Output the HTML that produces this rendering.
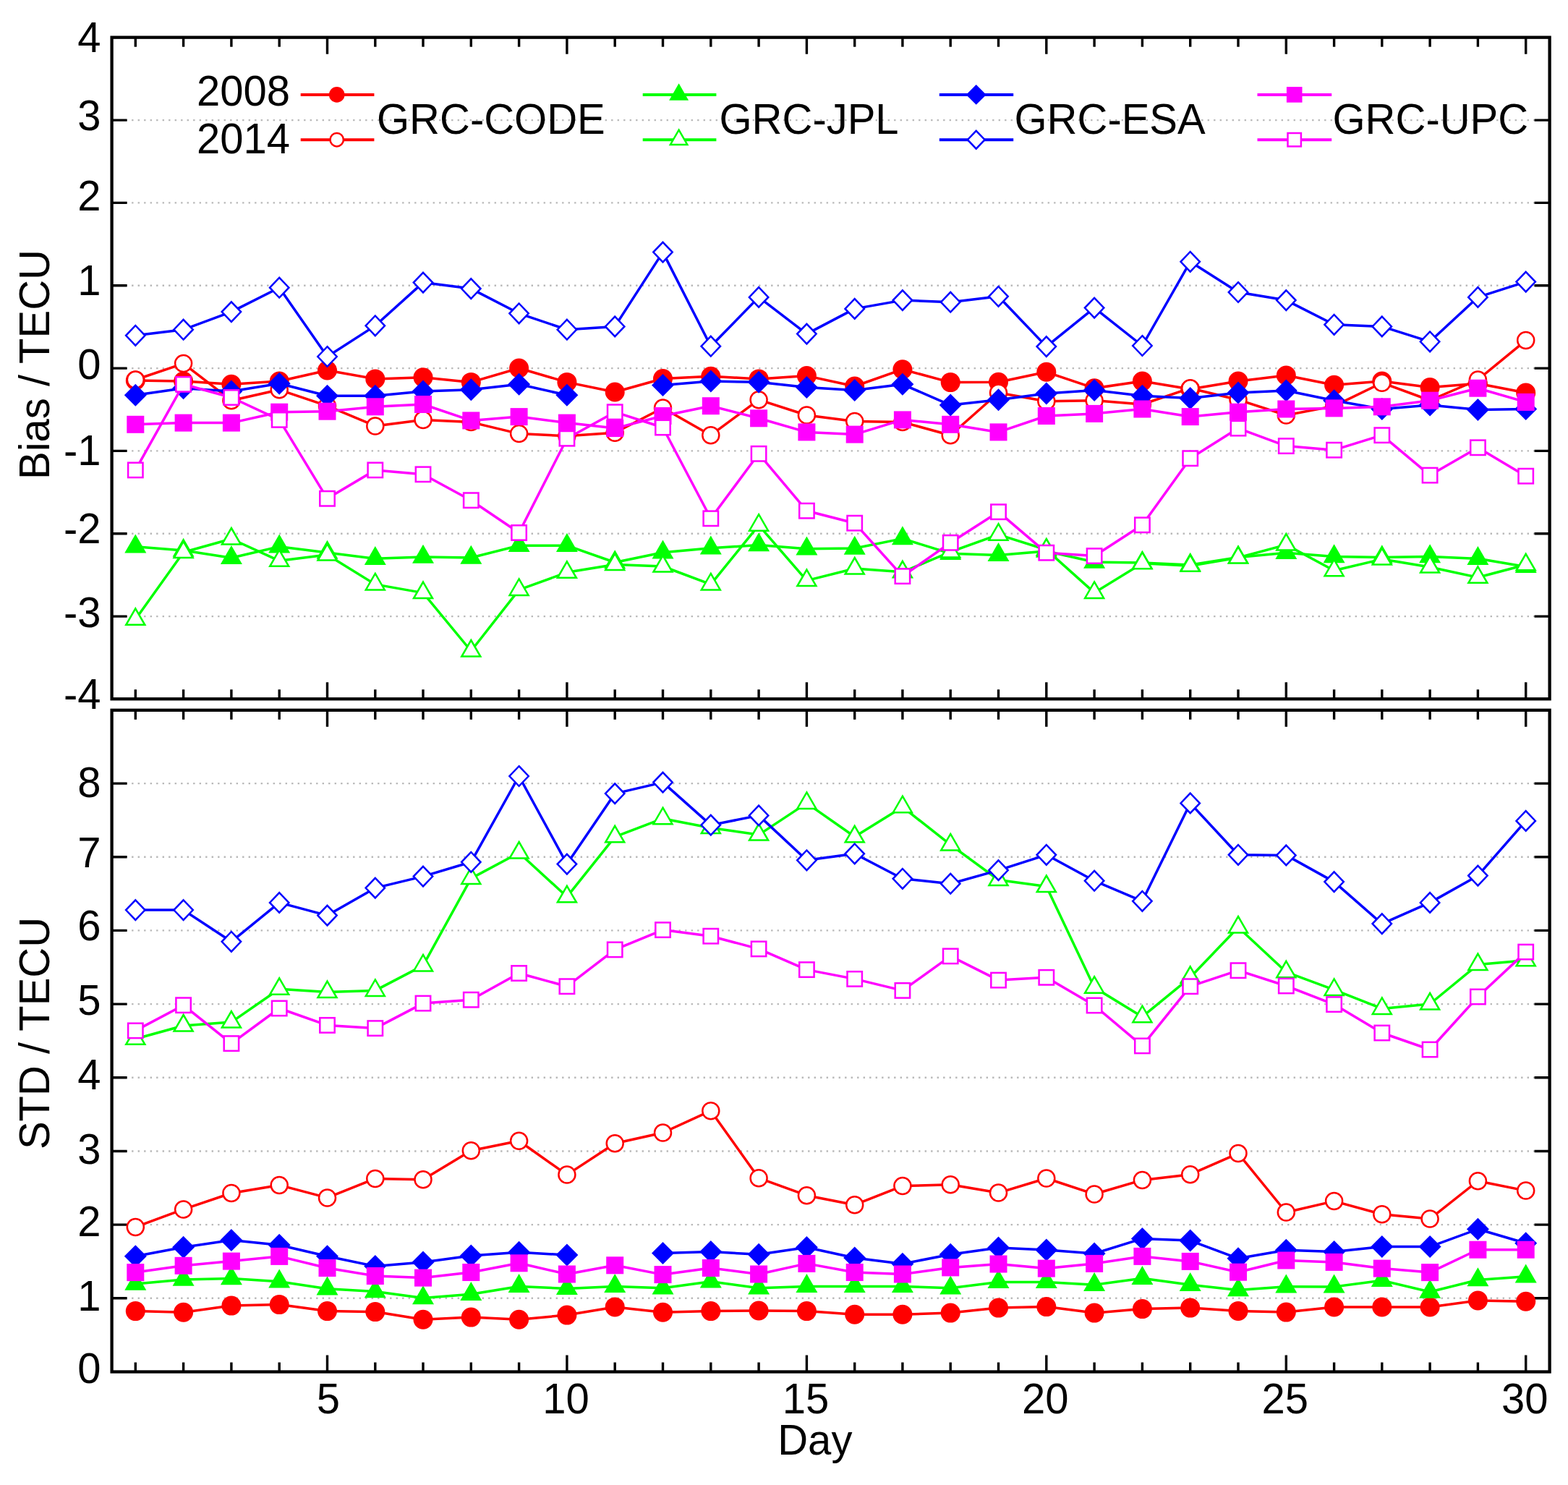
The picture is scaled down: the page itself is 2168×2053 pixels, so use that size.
<!DOCTYPE html>
<html><head><meta charset="utf-8"><title>Bias and STD of GRC vs GIMs</title>
<style>html,body{margin:0;padding:0;background:#fff;overflow:hidden}svg{display:block}</style>
</head><body>
<svg width="2168" height="2053" viewBox="0 0 2168 2053">
<defs><clipPath id="c1"><rect x="154.6" y="51.7" width="1988" height="914.6"/></clipPath>
<clipPath id="c2"><rect x="154.6" y="981.8" width="1988" height="914.7"/></clipPath></defs>
<rect width="2168" height="2053" fill="#fff"/>
<g stroke="#b9b9b9" stroke-width="2.4" stroke-dasharray="2.4 6.1"><line x1="156.6" y1="852.1" x2="2140.6" y2="852.1"/><line x1="156.6" y1="737.8" x2="2140.6" y2="737.8"/><line x1="156.6" y1="623.4" x2="2140.6" y2="623.4"/><line x1="156.6" y1="509.1" x2="2140.6" y2="509.1"/><line x1="156.6" y1="394.8" x2="2140.6" y2="394.8"/><line x1="156.6" y1="280.4" x2="2140.6" y2="280.4"/><line x1="156.6" y1="166.1" x2="2140.6" y2="166.1"/><line x1="156.6" y1="1794.8" x2="2140.6" y2="1794.8"/><line x1="156.6" y1="1693.1" x2="2140.6" y2="1693.1"/><line x1="156.6" y1="1591.5" x2="2140.6" y2="1591.5"/><line x1="156.6" y1="1489.8" x2="2140.6" y2="1489.8"/><line x1="156.6" y1="1388.1" x2="2140.6" y2="1388.1"/><line x1="156.6" y1="1286.4" x2="2140.6" y2="1286.4"/><line x1="156.6" y1="1184.7" x2="2140.6" y2="1184.7"/><line x1="156.6" y1="1083.1" x2="2140.6" y2="1083.1"/></g>
<path d="M187.3 51.7v13M187.3 966.3v-13M187.3 981.8v13M187.3 1896.5v-13M253.6 51.7v13M253.6 966.3v-13M253.6 981.8v13M253.6 1896.5v-13M319.9 51.7v13M319.9 966.3v-13M319.9 981.8v13M319.9 1896.5v-13M386.2 51.7v13M386.2 966.3v-13M386.2 981.8v13M386.2 1896.5v-13M452.5 51.7v23M452.5 966.3v-23M452.5 981.8v23M452.5 1896.5v-23M518.8 51.7v13M518.8 966.3v-13M518.8 981.8v13M518.8 1896.5v-13M585 51.7v13M585 966.3v-13M585 981.8v13M585 1896.5v-13M651.3 51.7v13M651.3 966.3v-13M651.3 981.8v13M651.3 1896.5v-13M717.6 51.7v13M717.6 966.3v-13M717.6 981.8v13M717.6 1896.5v-13M783.9 51.7v23M783.9 966.3v-23M783.9 981.8v23M783.9 1896.5v-23M850.2 51.7v13M850.2 966.3v-13M850.2 981.8v13M850.2 1896.5v-13M916.5 51.7v13M916.5 966.3v-13M916.5 981.8v13M916.5 1896.5v-13M982.8 51.7v13M982.8 966.3v-13M982.8 981.8v13M982.8 1896.5v-13M1049.1 51.7v13M1049.1 966.3v-13M1049.1 981.8v13M1049.1 1896.5v-13M1115.4 51.7v23M1115.4 966.3v-23M1115.4 981.8v23M1115.4 1896.5v-23M1181.7 51.7v13M1181.7 966.3v-13M1181.7 981.8v13M1181.7 1896.5v-13M1247.9 51.7v13M1247.9 966.3v-13M1247.9 981.8v13M1247.9 1896.5v-13M1314.2 51.7v13M1314.2 966.3v-13M1314.2 981.8v13M1314.2 1896.5v-13M1380.5 51.7v13M1380.5 966.3v-13M1380.5 981.8v13M1380.5 1896.5v-13M1446.8 51.7v23M1446.8 966.3v-23M1446.8 981.8v23M1446.8 1896.5v-23M1513.1 51.7v13M1513.1 966.3v-13M1513.1 981.8v13M1513.1 1896.5v-13M1579.4 51.7v13M1579.4 966.3v-13M1579.4 981.8v13M1579.4 1896.5v-13M1645.7 51.7v13M1645.7 966.3v-13M1645.7 981.8v13M1645.7 1896.5v-13M1712 51.7v13M1712 966.3v-13M1712 981.8v13M1712 1896.5v-13M1778.3 51.7v23M1778.3 966.3v-23M1778.3 981.8v23M1778.3 1896.5v-23M1844.6 51.7v13M1844.6 966.3v-13M1844.6 981.8v13M1844.6 1896.5v-13M1910.8 51.7v13M1910.8 966.3v-13M1910.8 981.8v13M1910.8 1896.5v-13M1977.1 51.7v13M1977.1 966.3v-13M1977.1 981.8v13M1977.1 1896.5v-13M2043.4 51.7v13M2043.4 966.3v-13M2043.4 981.8v13M2043.4 1896.5v-13M2109.7 51.7v23M2109.7 966.3v-23M2109.7 981.8v23M2109.7 1896.5v-23M154.6 852.1h21M2142.6 852.1h-21M154.6 737.8h21M2142.6 737.8h-21M154.6 623.4h21M2142.6 623.4h-21M154.6 509.1h21M2142.6 509.1h-21M154.6 394.8h21M2142.6 394.8h-21M154.6 280.4h21M2142.6 280.4h-21M154.6 166.1h21M2142.6 166.1h-21M154.6 1794.8h21M2142.6 1794.8h-21M154.6 1693.1h21M2142.6 1693.1h-21M154.6 1591.5h21M2142.6 1591.5h-21M154.6 1489.8h21M2142.6 1489.8h-21M154.6 1388.1h21M2142.6 1388.1h-21M154.6 1286.4h21M2142.6 1286.4h-21M154.6 1184.7h21M2142.6 1184.7h-21M154.6 1083.1h21M2142.6 1083.1h-21" stroke="#000" stroke-width="3.4" fill="none"/>
<g clip-path="url(#c1)"><polyline points="187.3,526 253.6,527 319.9,531.3 386.2,527 452.5,512 518.8,523.9 585,521.7 651.3,528.4 717.6,509 783.9,528.4 850.2,542 916.5,523.5 982.8,520.3 1049.1,523.9 1115.4,519.6 1181.7,534 1247.9,510.7 1314.2,528.6 1380.5,528.2 1446.8,514.3 1513.1,536.7 1579.4,527.1 1645.7,538 1712,527.1 1778.3,519 1844.6,532.2 1910.8,527 1977.1,535.6 2043.4,530.3 2109.7,543" fill="none" stroke="#ff0000" stroke-width="3.5" stroke-linejoin="round"/>
<circle cx="187.3" cy="526" r="13.5" fill="#ff0000"/>
<circle cx="253.6" cy="527" r="13.5" fill="#ff0000"/>
<circle cx="319.9" cy="531.3" r="13.5" fill="#ff0000"/>
<circle cx="386.2" cy="527" r="13.5" fill="#ff0000"/>
<circle cx="452.5" cy="512" r="13.5" fill="#ff0000"/>
<circle cx="518.8" cy="523.9" r="13.5" fill="#ff0000"/>
<circle cx="585" cy="521.7" r="13.5" fill="#ff0000"/>
<circle cx="651.3" cy="528.4" r="13.5" fill="#ff0000"/>
<circle cx="717.6" cy="509" r="13.5" fill="#ff0000"/>
<circle cx="783.9" cy="528.4" r="13.5" fill="#ff0000"/>
<circle cx="850.2" cy="542" r="13.5" fill="#ff0000"/>
<circle cx="916.5" cy="523.5" r="13.5" fill="#ff0000"/>
<circle cx="982.8" cy="520.3" r="13.5" fill="#ff0000"/>
<circle cx="1049.1" cy="523.9" r="13.5" fill="#ff0000"/>
<circle cx="1115.4" cy="519.6" r="13.5" fill="#ff0000"/>
<circle cx="1181.7" cy="534" r="13.5" fill="#ff0000"/>
<circle cx="1247.9" cy="510.7" r="13.5" fill="#ff0000"/>
<circle cx="1314.2" cy="528.6" r="13.5" fill="#ff0000"/>
<circle cx="1380.5" cy="528.2" r="13.5" fill="#ff0000"/>
<circle cx="1446.8" cy="514.3" r="13.5" fill="#ff0000"/>
<circle cx="1513.1" cy="536.7" r="13.5" fill="#ff0000"/>
<circle cx="1579.4" cy="527.1" r="13.5" fill="#ff0000"/>
<circle cx="1645.7" cy="538" r="13.5" fill="#ff0000"/>
<circle cx="1712" cy="527.1" r="13.5" fill="#ff0000"/>
<circle cx="1778.3" cy="519" r="13.5" fill="#ff0000"/>
<circle cx="1844.6" cy="532.2" r="13.5" fill="#ff0000"/>
<circle cx="1910.8" cy="527" r="13.5" fill="#ff0000"/>
<circle cx="1977.1" cy="535.6" r="13.5" fill="#ff0000"/>
<circle cx="2043.4" cy="530.3" r="13.5" fill="#ff0000"/>
<circle cx="2109.7" cy="543" r="13.5" fill="#ff0000"/>
<polyline points="187.3,525 253.6,502.6 319.9,553.7 386.2,538.8 452.5,561.2 518.8,588.9 585,580.4 651.3,583.6 717.6,599.6 783.9,602.8 850.2,598.2 916.5,564 982.8,601.7 1049.1,552.7 1115.4,574 1181.7,582.5 1247.9,583.6 1314.2,601.7 1380.5,543 1446.8,554.8 1513.1,553.7 1579.4,559 1645.7,536.7 1712,552.7 1778.3,574 1844.6,561.4 1910.8,529.2 1977.1,553.5 2043.4,525 2109.7,470.6" fill="none" stroke="#ff0000" stroke-width="3.5" stroke-linejoin="round"/>
<circle cx="187.3" cy="525" r="11.5" fill="#fff" stroke="#ff0000" stroke-width="2.5"/>
<circle cx="253.6" cy="502.6" r="11.5" fill="#fff" stroke="#ff0000" stroke-width="2.5"/>
<circle cx="319.9" cy="553.7" r="11.5" fill="#fff" stroke="#ff0000" stroke-width="2.5"/>
<circle cx="386.2" cy="538.8" r="11.5" fill="#fff" stroke="#ff0000" stroke-width="2.5"/>
<circle cx="452.5" cy="561.2" r="11.5" fill="#fff" stroke="#ff0000" stroke-width="2.5"/>
<circle cx="518.8" cy="588.9" r="11.5" fill="#fff" stroke="#ff0000" stroke-width="2.5"/>
<circle cx="585" cy="580.4" r="11.5" fill="#fff" stroke="#ff0000" stroke-width="2.5"/>
<circle cx="651.3" cy="583.6" r="11.5" fill="#fff" stroke="#ff0000" stroke-width="2.5"/>
<circle cx="717.6" cy="599.6" r="11.5" fill="#fff" stroke="#ff0000" stroke-width="2.5"/>
<circle cx="783.9" cy="602.8" r="11.5" fill="#fff" stroke="#ff0000" stroke-width="2.5"/>
<circle cx="850.2" cy="598.2" r="11.5" fill="#fff" stroke="#ff0000" stroke-width="2.5"/>
<circle cx="916.5" cy="564" r="11.5" fill="#fff" stroke="#ff0000" stroke-width="2.5"/>
<circle cx="982.8" cy="601.7" r="11.5" fill="#fff" stroke="#ff0000" stroke-width="2.5"/>
<circle cx="1049.1" cy="552.7" r="11.5" fill="#fff" stroke="#ff0000" stroke-width="2.5"/>
<circle cx="1115.4" cy="574" r="11.5" fill="#fff" stroke="#ff0000" stroke-width="2.5"/>
<circle cx="1181.7" cy="582.5" r="11.5" fill="#fff" stroke="#ff0000" stroke-width="2.5"/>
<circle cx="1247.9" cy="583.6" r="11.5" fill="#fff" stroke="#ff0000" stroke-width="2.5"/>
<circle cx="1314.2" cy="601.7" r="11.5" fill="#fff" stroke="#ff0000" stroke-width="2.5"/>
<circle cx="1380.5" cy="543" r="11.5" fill="#fff" stroke="#ff0000" stroke-width="2.5"/>
<circle cx="1446.8" cy="554.8" r="11.5" fill="#fff" stroke="#ff0000" stroke-width="2.5"/>
<circle cx="1513.1" cy="553.7" r="11.5" fill="#fff" stroke="#ff0000" stroke-width="2.5"/>
<circle cx="1579.4" cy="559" r="11.5" fill="#fff" stroke="#ff0000" stroke-width="2.5"/>
<circle cx="1645.7" cy="536.7" r="11.5" fill="#fff" stroke="#ff0000" stroke-width="2.5"/>
<circle cx="1712" cy="552.7" r="11.5" fill="#fff" stroke="#ff0000" stroke-width="2.5"/>
<circle cx="1778.3" cy="574" r="11.5" fill="#fff" stroke="#ff0000" stroke-width="2.5"/>
<circle cx="1844.6" cy="561.4" r="11.5" fill="#fff" stroke="#ff0000" stroke-width="2.5"/>
<circle cx="1910.8" cy="529.2" r="11.5" fill="#fff" stroke="#ff0000" stroke-width="2.5"/>
<circle cx="1977.1" cy="553.5" r="11.5" fill="#fff" stroke="#ff0000" stroke-width="2.5"/>
<circle cx="2043.4" cy="525" r="11.5" fill="#fff" stroke="#ff0000" stroke-width="2.5"/>
<circle cx="2109.7" cy="470.6" r="11.5" fill="#fff" stroke="#ff0000" stroke-width="2.5"/>
<polyline points="187.3,755.7 253.6,761 319.9,771.2 386.2,755.7 452.5,764 518.8,772.3 585,770.1 651.3,771 717.6,754.2 783.9,754.2 850.2,777.5 916.5,763.8 982.8,757.8 1049.1,753.5 1115.4,758.8 1181.7,758 1247.9,744.6 1314.2,765.2 1380.5,767.4 1446.8,762 1513.1,777 1579.4,778 1645.7,781 1712,770.6 1778.3,764.2 1844.6,769.5 1910.8,770.6 1977.1,769.5 2043.4,772.3 2109.7,783.4" fill="none" stroke="#00ff00" stroke-width="3.5" stroke-linejoin="round"/>
<polygon points="187.3,738.4 202.3,764.4 172.3,764.4" fill="#00ff00"/>
<polygon points="253.6,743.7 268.6,769.7 238.6,769.7" fill="#00ff00"/>
<polygon points="319.9,753.9 334.9,779.9 304.9,779.9" fill="#00ff00"/>
<polygon points="386.2,738.4 401.2,764.4 371.2,764.4" fill="#00ff00"/>
<polygon points="452.5,746.7 467.5,772.7 437.5,772.7" fill="#00ff00"/>
<polygon points="518.8,755 533.8,781 503.8,781" fill="#00ff00"/>
<polygon points="585,752.8 600,778.8 570,778.8" fill="#00ff00"/>
<polygon points="651.3,753.7 666.3,779.7 636.3,779.7" fill="#00ff00"/>
<polygon points="717.6,736.9 732.6,762.9 702.6,762.9" fill="#00ff00"/>
<polygon points="783.9,736.9 798.9,762.9 768.9,762.9" fill="#00ff00"/>
<polygon points="850.2,760.2 865.2,786.2 835.2,786.2" fill="#00ff00"/>
<polygon points="916.5,746.5 931.5,772.5 901.5,772.5" fill="#00ff00"/>
<polygon points="982.8,740.5 997.8,766.5 967.8,766.5" fill="#00ff00"/>
<polygon points="1049.1,736.2 1064.1,762.2 1034.1,762.2" fill="#00ff00"/>
<polygon points="1115.4,741.5 1130.4,767.5 1100.4,767.5" fill="#00ff00"/>
<polygon points="1181.7,740.7 1196.7,766.7 1166.7,766.7" fill="#00ff00"/>
<polygon points="1247.9,727.3 1262.9,753.3 1232.9,753.3" fill="#00ff00"/>
<polygon points="1314.2,747.9 1329.2,773.9 1299.2,773.9" fill="#00ff00"/>
<polygon points="1380.5,750.1 1395.5,776.1 1365.5,776.1" fill="#00ff00"/>
<polygon points="1446.8,744.7 1461.8,770.7 1431.8,770.7" fill="#00ff00"/>
<polygon points="1513.1,759.7 1528.1,785.7 1498.1,785.7" fill="#00ff00"/>
<polygon points="1579.4,760.7 1594.4,786.7 1564.4,786.7" fill="#00ff00"/>
<polygon points="1645.7,763.7 1660.7,789.7 1630.7,789.7" fill="#00ff00"/>
<polygon points="1712,753.3 1727,779.3 1697,779.3" fill="#00ff00"/>
<polygon points="1778.3,746.9 1793.3,772.9 1763.3,772.9" fill="#00ff00"/>
<polygon points="1844.6,752.2 1859.6,778.2 1829.6,778.2" fill="#00ff00"/>
<polygon points="1910.8,753.3 1925.8,779.3 1895.8,779.3" fill="#00ff00"/>
<polygon points="1977.1,752.2 1992.1,778.2 1962.1,778.2" fill="#00ff00"/>
<polygon points="2043.4,755 2058.4,781 2028.4,781" fill="#00ff00"/>
<polygon points="2109.7,766.1 2124.7,792.1 2094.7,792.1" fill="#00ff00"/>
<polyline points="187.3,856.3 253.6,763.5 319.9,745 386.2,775.3 452.5,767 518.8,807.9 585,819.6 651.3,900 717.6,815.4 783.9,791.3 850.2,780.4 916.5,783 982.8,807.9 1049.1,726.2 1115.4,802.6 1181.7,786 1247.9,790.8 1314.2,763 1380.5,739.2 1446.8,760 1513.1,819.4 1579.4,778.7 1645.7,782.3 1712,771 1778.3,753.1 1844.6,788.7 1910.8,773.1 1977.1,784 2043.4,798.3 2109.7,780.8" fill="none" stroke="#00ff00" stroke-width="3.5" stroke-linejoin="round"/>
<polygon points="187.3,841.3 200.3,863.8 174.3,863.8" fill="#fff" stroke="#00ff00" stroke-width="2.5" stroke-linejoin="miter"/>
<polygon points="253.6,748.5 266.6,771 240.6,771" fill="#fff" stroke="#00ff00" stroke-width="2.5" stroke-linejoin="miter"/>
<polygon points="319.9,730 332.9,752.5 306.9,752.5" fill="#fff" stroke="#00ff00" stroke-width="2.5" stroke-linejoin="miter"/>
<polygon points="386.2,760.3 399.2,782.8 373.2,782.8" fill="#fff" stroke="#00ff00" stroke-width="2.5" stroke-linejoin="miter"/>
<polygon points="452.5,752 465.5,774.5 439.5,774.5" fill="#fff" stroke="#00ff00" stroke-width="2.5" stroke-linejoin="miter"/>
<polygon points="518.8,792.9 531.8,815.4 505.8,815.4" fill="#fff" stroke="#00ff00" stroke-width="2.5" stroke-linejoin="miter"/>
<polygon points="585,804.6 598,827.1 572,827.1" fill="#fff" stroke="#00ff00" stroke-width="2.5" stroke-linejoin="miter"/>
<polygon points="651.3,885 664.3,907.5 638.3,907.5" fill="#fff" stroke="#00ff00" stroke-width="2.5" stroke-linejoin="miter"/>
<polygon points="717.6,800.4 730.6,822.9 704.6,822.9" fill="#fff" stroke="#00ff00" stroke-width="2.5" stroke-linejoin="miter"/>
<polygon points="783.9,776.3 796.9,798.8 770.9,798.8" fill="#fff" stroke="#00ff00" stroke-width="2.5" stroke-linejoin="miter"/>
<polygon points="850.2,765.4 863.2,787.9 837.2,787.9" fill="#fff" stroke="#00ff00" stroke-width="2.5" stroke-linejoin="miter"/>
<polygon points="916.5,768 929.5,790.5 903.5,790.5" fill="#fff" stroke="#00ff00" stroke-width="2.5" stroke-linejoin="miter"/>
<polygon points="982.8,792.9 995.8,815.4 969.8,815.4" fill="#fff" stroke="#00ff00" stroke-width="2.5" stroke-linejoin="miter"/>
<polygon points="1049.1,711.2 1062.1,733.7 1036.1,733.7" fill="#fff" stroke="#00ff00" stroke-width="2.5" stroke-linejoin="miter"/>
<polygon points="1115.4,787.6 1128.4,810.1 1102.4,810.1" fill="#fff" stroke="#00ff00" stroke-width="2.5" stroke-linejoin="miter"/>
<polygon points="1181.7,771 1194.7,793.5 1168.7,793.5" fill="#fff" stroke="#00ff00" stroke-width="2.5" stroke-linejoin="miter"/>
<polygon points="1247.9,775.8 1260.9,798.3 1234.9,798.3" fill="#fff" stroke="#00ff00" stroke-width="2.5" stroke-linejoin="miter"/>
<polygon points="1314.2,748 1327.2,770.5 1301.2,770.5" fill="#fff" stroke="#00ff00" stroke-width="2.5" stroke-linejoin="miter"/>
<polygon points="1380.5,724.2 1393.5,746.7 1367.5,746.7" fill="#fff" stroke="#00ff00" stroke-width="2.5" stroke-linejoin="miter"/>
<polygon points="1446.8,745 1459.8,767.5 1433.8,767.5" fill="#fff" stroke="#00ff00" stroke-width="2.5" stroke-linejoin="miter"/>
<polygon points="1513.1,804.4 1526.1,826.9 1500.1,826.9" fill="#fff" stroke="#00ff00" stroke-width="2.5" stroke-linejoin="miter"/>
<polygon points="1579.4,763.7 1592.4,786.2 1566.4,786.2" fill="#fff" stroke="#00ff00" stroke-width="2.5" stroke-linejoin="miter"/>
<polygon points="1645.7,767.3 1658.7,789.8 1632.7,789.8" fill="#fff" stroke="#00ff00" stroke-width="2.5" stroke-linejoin="miter"/>
<polygon points="1712,756 1725,778.5 1699,778.5" fill="#fff" stroke="#00ff00" stroke-width="2.5" stroke-linejoin="miter"/>
<polygon points="1778.3,738.1 1791.3,760.6 1765.3,760.6" fill="#fff" stroke="#00ff00" stroke-width="2.5" stroke-linejoin="miter"/>
<polygon points="1844.6,773.7 1857.6,796.2 1831.6,796.2" fill="#fff" stroke="#00ff00" stroke-width="2.5" stroke-linejoin="miter"/>
<polygon points="1910.8,758.1 1923.8,780.6 1897.8,780.6" fill="#fff" stroke="#00ff00" stroke-width="2.5" stroke-linejoin="miter"/>
<polygon points="1977.1,769 1990.1,791.5 1964.1,791.5" fill="#fff" stroke="#00ff00" stroke-width="2.5" stroke-linejoin="miter"/>
<polygon points="2043.4,783.3 2056.4,805.8 2030.4,805.8" fill="#fff" stroke="#00ff00" stroke-width="2.5" stroke-linejoin="miter"/>
<polygon points="2109.7,765.8 2122.7,788.3 2096.7,788.3" fill="#fff" stroke="#00ff00" stroke-width="2.5" stroke-linejoin="miter"/>
<polyline points="187.3,546.3 253.6,536.7 319.9,541 386.2,530.3 452.5,547.3 518.8,547.3 585,541 651.3,538.8 717.6,531.3 783.9,546.3" fill="none" stroke="#0000ff" stroke-width="3.5" stroke-linejoin="round"/>
<polyline points="916.5,532.4 982.8,527.1 1049.1,528.2 1115.4,535.6 1181.7,539.4 1247.9,531.3 1314.2,560.1 1380.5,552.7 1446.8,544.1 1513.1,539.4 1579.4,547.3 1645.7,550.5 1712,543.1 1778.3,539.9 1844.6,553.7 1910.8,565.5 1977.1,560.1 2043.4,566.5 2109.7,565.5" fill="none" stroke="#0000ff" stroke-width="3.5" stroke-linejoin="round"/>
<polygon points="187.3,530.8 202.8,546.3 187.3,561.8 171.8,546.3" fill="#0000ff"/>
<polygon points="253.6,521.2 269.1,536.7 253.6,552.2 238.1,536.7" fill="#0000ff"/>
<polygon points="319.9,525.5 335.4,541 319.9,556.5 304.4,541" fill="#0000ff"/>
<polygon points="386.2,514.8 401.7,530.3 386.2,545.8 370.7,530.3" fill="#0000ff"/>
<polygon points="452.5,531.8 468,547.3 452.5,562.8 437,547.3" fill="#0000ff"/>
<polygon points="518.8,531.8 534.2,547.3 518.8,562.8 503.2,547.3" fill="#0000ff"/>
<polygon points="585,525.5 600.5,541 585,556.5 569.5,541" fill="#0000ff"/>
<polygon points="651.3,523.3 666.8,538.8 651.3,554.3 635.8,538.8" fill="#0000ff"/>
<polygon points="717.6,515.8 733.1,531.3 717.6,546.8 702.1,531.3" fill="#0000ff"/>
<polygon points="783.9,530.8 799.4,546.3 783.9,561.8 768.4,546.3" fill="#0000ff"/>
<polygon points="916.5,516.9 932,532.4 916.5,547.9 901,532.4" fill="#0000ff"/>
<polygon points="982.8,511.6 998.3,527.1 982.8,542.6 967.3,527.1" fill="#0000ff"/>
<polygon points="1049.1,512.7 1064.6,528.2 1049.1,543.7 1033.6,528.2" fill="#0000ff"/>
<polygon points="1115.4,520.1 1130.9,535.6 1115.4,551.1 1099.9,535.6" fill="#0000ff"/>
<polygon points="1181.7,523.9 1197.2,539.4 1181.7,554.9 1166.2,539.4" fill="#0000ff"/>
<polygon points="1247.9,515.8 1263.4,531.3 1247.9,546.8 1232.4,531.3" fill="#0000ff"/>
<polygon points="1314.2,544.6 1329.7,560.1 1314.2,575.6 1298.7,560.1" fill="#0000ff"/>
<polygon points="1380.5,537.2 1396,552.7 1380.5,568.2 1365,552.7" fill="#0000ff"/>
<polygon points="1446.8,528.6 1462.3,544.1 1446.8,559.6 1431.3,544.1" fill="#0000ff"/>
<polygon points="1513.1,523.9 1528.6,539.4 1513.1,554.9 1497.6,539.4" fill="#0000ff"/>
<polygon points="1579.4,531.8 1594.9,547.3 1579.4,562.8 1563.9,547.3" fill="#0000ff"/>
<polygon points="1645.7,535 1661.2,550.5 1645.7,566 1630.2,550.5" fill="#0000ff"/>
<polygon points="1712,527.6 1727.5,543.1 1712,558.6 1696.5,543.1" fill="#0000ff"/>
<polygon points="1778.3,524.4 1793.8,539.9 1778.3,555.4 1762.8,539.9" fill="#0000ff"/>
<polygon points="1844.6,538.2 1860.1,553.7 1844.6,569.2 1829.1,553.7" fill="#0000ff"/>
<polygon points="1910.8,550 1926.3,565.5 1910.8,581 1895.3,565.5" fill="#0000ff"/>
<polygon points="1977.1,544.6 1992.6,560.1 1977.1,575.6 1961.6,560.1" fill="#0000ff"/>
<polygon points="2043.4,551 2058.9,566.5 2043.4,582 2027.9,566.5" fill="#0000ff"/>
<polygon points="2109.7,550 2125.2,565.5 2109.7,581 2094.2,565.5" fill="#0000ff"/>
<polyline points="187.3,463.8 253.6,455.7 319.9,431.1 386.2,397.7 452.5,493 518.8,450.3 585,390.6 651.3,399.1 717.6,433.3 783.9,455.7 850.2,451.4 916.5,348.6 982.8,478.7 1049.1,410.9 1115.4,461.6 1181.7,426.9 1247.9,415.1 1314.2,417.7 1380.5,409.8 1446.8,479.1 1513.1,425.6 1579.4,478 1645.7,361.8 1712,404 1778.3,415.1 1844.6,448.8 1910.8,451.4 1977.1,472.3 2043.4,410.9 2109.7,389.6" fill="none" stroke="#0000ff" stroke-width="3.5" stroke-linejoin="round"/>
<polygon points="187.3,450 200.5,463.8 187.3,477.6 174.1,463.8" fill="#fff" stroke="#0000ff" stroke-width="2.5"/>
<polygon points="253.6,441.9 266.8,455.7 253.6,469.5 240.4,455.7" fill="#fff" stroke="#0000ff" stroke-width="2.5"/>
<polygon points="319.9,417.3 333.1,431.1 319.9,444.9 306.7,431.1" fill="#fff" stroke="#0000ff" stroke-width="2.5"/>
<polygon points="386.2,383.9 399.4,397.7 386.2,411.5 373,397.7" fill="#fff" stroke="#0000ff" stroke-width="2.5"/>
<polygon points="452.5,479.2 465.7,493 452.5,506.8 439.3,493" fill="#fff" stroke="#0000ff" stroke-width="2.5"/>
<polygon points="518.8,436.5 532,450.3 518.8,464.1 505.6,450.3" fill="#fff" stroke="#0000ff" stroke-width="2.5"/>
<polygon points="585,376.8 598.2,390.6 585,404.4 571.8,390.6" fill="#fff" stroke="#0000ff" stroke-width="2.5"/>
<polygon points="651.3,385.3 664.5,399.1 651.3,412.9 638.1,399.1" fill="#fff" stroke="#0000ff" stroke-width="2.5"/>
<polygon points="717.6,419.5 730.8,433.3 717.6,447.1 704.4,433.3" fill="#fff" stroke="#0000ff" stroke-width="2.5"/>
<polygon points="783.9,441.9 797.1,455.7 783.9,469.5 770.7,455.7" fill="#fff" stroke="#0000ff" stroke-width="2.5"/>
<polygon points="850.2,437.6 863.4,451.4 850.2,465.2 837,451.4" fill="#fff" stroke="#0000ff" stroke-width="2.5"/>
<polygon points="916.5,334.8 929.7,348.6 916.5,362.4 903.3,348.6" fill="#fff" stroke="#0000ff" stroke-width="2.5"/>
<polygon points="982.8,464.9 996,478.7 982.8,492.5 969.6,478.7" fill="#fff" stroke="#0000ff" stroke-width="2.5"/>
<polygon points="1049.1,397.1 1062.3,410.9 1049.1,424.7 1035.9,410.9" fill="#fff" stroke="#0000ff" stroke-width="2.5"/>
<polygon points="1115.4,447.8 1128.6,461.6 1115.4,475.4 1102.2,461.6" fill="#fff" stroke="#0000ff" stroke-width="2.5"/>
<polygon points="1181.7,413.1 1194.9,426.9 1181.7,440.7 1168.5,426.9" fill="#fff" stroke="#0000ff" stroke-width="2.5"/>
<polygon points="1247.9,401.3 1261.1,415.1 1247.9,428.9 1234.7,415.1" fill="#fff" stroke="#0000ff" stroke-width="2.5"/>
<polygon points="1314.2,403.9 1327.4,417.7 1314.2,431.5 1301,417.7" fill="#fff" stroke="#0000ff" stroke-width="2.5"/>
<polygon points="1380.5,396 1393.7,409.8 1380.5,423.6 1367.3,409.8" fill="#fff" stroke="#0000ff" stroke-width="2.5"/>
<polygon points="1446.8,465.3 1460,479.1 1446.8,492.9 1433.6,479.1" fill="#fff" stroke="#0000ff" stroke-width="2.5"/>
<polygon points="1513.1,411.8 1526.3,425.6 1513.1,439.4 1499.9,425.6" fill="#fff" stroke="#0000ff" stroke-width="2.5"/>
<polygon points="1579.4,464.2 1592.6,478 1579.4,491.8 1566.2,478" fill="#fff" stroke="#0000ff" stroke-width="2.5"/>
<polygon points="1645.7,348 1658.9,361.8 1645.7,375.6 1632.5,361.8" fill="#fff" stroke="#0000ff" stroke-width="2.5"/>
<polygon points="1712,390.2 1725.2,404 1712,417.8 1698.8,404" fill="#fff" stroke="#0000ff" stroke-width="2.5"/>
<polygon points="1778.3,401.3 1791.5,415.1 1778.3,428.9 1765.1,415.1" fill="#fff" stroke="#0000ff" stroke-width="2.5"/>
<polygon points="1844.6,435 1857.8,448.8 1844.6,462.6 1831.4,448.8" fill="#fff" stroke="#0000ff" stroke-width="2.5"/>
<polygon points="1910.8,437.6 1924,451.4 1910.8,465.2 1897.6,451.4" fill="#fff" stroke="#0000ff" stroke-width="2.5"/>
<polygon points="1977.1,458.5 1990.3,472.3 1977.1,486.1 1963.9,472.3" fill="#fff" stroke="#0000ff" stroke-width="2.5"/>
<polygon points="2043.4,397.1 2056.6,410.9 2043.4,424.7 2030.2,410.9" fill="#fff" stroke="#0000ff" stroke-width="2.5"/>
<polygon points="2109.7,375.8 2122.9,389.6 2109.7,403.4 2096.5,389.6" fill="#fff" stroke="#0000ff" stroke-width="2.5"/>
<polyline points="187.3,586.8 253.6,584.6 319.9,584.6 386.2,569.7 452.5,568.7 518.8,562.3 585,559 651.3,581.4 717.6,576.1 783.9,584.6 850.2,592.1 916.5,575 982.8,561.2 1049.1,578.3 1115.4,597.4 1181.7,600.6 1247.9,580.4 1314.2,586.8 1380.5,597.4 1446.8,575 1513.1,571.9 1579.4,565.5 1645.7,576.1 1712,569.7 1778.3,565.5 1844.6,564.4 1910.8,562.3 1977.1,553.7 2043.4,536.7 2109.7,555.9" fill="none" stroke="#ff00ff" stroke-width="3.5" stroke-linejoin="round"/>
<rect x="175.3" y="574.8" width="24" height="24" fill="#ff00ff"/>
<rect x="241.6" y="572.6" width="24" height="24" fill="#ff00ff"/>
<rect x="307.9" y="572.6" width="24" height="24" fill="#ff00ff"/>
<rect x="374.2" y="557.7" width="24" height="24" fill="#ff00ff"/>
<rect x="440.5" y="556.7" width="24" height="24" fill="#ff00ff"/>
<rect x="506.8" y="550.3" width="24" height="24" fill="#ff00ff"/>
<rect x="573" y="547" width="24" height="24" fill="#ff00ff"/>
<rect x="639.3" y="569.4" width="24" height="24" fill="#ff00ff"/>
<rect x="705.6" y="564.1" width="24" height="24" fill="#ff00ff"/>
<rect x="771.9" y="572.6" width="24" height="24" fill="#ff00ff"/>
<rect x="838.2" y="580.1" width="24" height="24" fill="#ff00ff"/>
<rect x="904.5" y="563" width="24" height="24" fill="#ff00ff"/>
<rect x="970.8" y="549.2" width="24" height="24" fill="#ff00ff"/>
<rect x="1037.1" y="566.3" width="24" height="24" fill="#ff00ff"/>
<rect x="1103.4" y="585.4" width="24" height="24" fill="#ff00ff"/>
<rect x="1169.7" y="588.6" width="24" height="24" fill="#ff00ff"/>
<rect x="1235.9" y="568.4" width="24" height="24" fill="#ff00ff"/>
<rect x="1302.2" y="574.8" width="24" height="24" fill="#ff00ff"/>
<rect x="1368.5" y="585.4" width="24" height="24" fill="#ff00ff"/>
<rect x="1434.8" y="563" width="24" height="24" fill="#ff00ff"/>
<rect x="1501.1" y="559.9" width="24" height="24" fill="#ff00ff"/>
<rect x="1567.4" y="553.5" width="24" height="24" fill="#ff00ff"/>
<rect x="1633.7" y="564.1" width="24" height="24" fill="#ff00ff"/>
<rect x="1700" y="557.7" width="24" height="24" fill="#ff00ff"/>
<rect x="1766.3" y="553.5" width="24" height="24" fill="#ff00ff"/>
<rect x="1832.6" y="552.4" width="24" height="24" fill="#ff00ff"/>
<rect x="1898.8" y="550.3" width="24" height="24" fill="#ff00ff"/>
<rect x="1965.1" y="541.7" width="24" height="24" fill="#ff00ff"/>
<rect x="2031.4" y="524.7" width="24" height="24" fill="#ff00ff"/>
<rect x="2097.7" y="543.9" width="24" height="24" fill="#ff00ff"/>
<polyline points="187.3,649.9 253.6,531.3 319.9,549.5 386.2,580.4 452.5,689.3 518.8,649.9 585,655.8 651.3,691.7 717.6,736.5 783.9,606.2 850.2,569.7 916.5,591 982.8,716.8 1049.1,627.3 1115.4,706.2 1181.7,723.2 1247.9,796.6 1314.2,750.3 1380.5,707.7 1446.8,764.2 1513.1,768.6 1579.4,725.8 1645.7,633.7 1712,592.1 1778.3,616.6 1844.6,622.2 1910.8,601.7 1977.1,657.1 2043.4,618.8 2109.7,658.2" fill="none" stroke="#ff00ff" stroke-width="3.5" stroke-linejoin="round"/>
<rect x="177.1" y="639.7" width="20.4" height="20.4" fill="#fff" stroke="#ff00ff" stroke-width="2.5"/>
<rect x="243.4" y="521.1" width="20.4" height="20.4" fill="#fff" stroke="#ff00ff" stroke-width="2.5"/>
<rect x="309.7" y="539.3" width="20.4" height="20.4" fill="#fff" stroke="#ff00ff" stroke-width="2.5"/>
<rect x="376" y="570.2" width="20.4" height="20.4" fill="#fff" stroke="#ff00ff" stroke-width="2.5"/>
<rect x="442.3" y="679.1" width="20.4" height="20.4" fill="#fff" stroke="#ff00ff" stroke-width="2.5"/>
<rect x="508.6" y="639.7" width="20.4" height="20.4" fill="#fff" stroke="#ff00ff" stroke-width="2.5"/>
<rect x="574.8" y="645.6" width="20.4" height="20.4" fill="#fff" stroke="#ff00ff" stroke-width="2.5"/>
<rect x="641.1" y="681.5" width="20.4" height="20.4" fill="#fff" stroke="#ff00ff" stroke-width="2.5"/>
<rect x="707.4" y="726.3" width="20.4" height="20.4" fill="#fff" stroke="#ff00ff" stroke-width="2.5"/>
<rect x="773.7" y="596" width="20.4" height="20.4" fill="#fff" stroke="#ff00ff" stroke-width="2.5"/>
<rect x="840" y="559.5" width="20.4" height="20.4" fill="#fff" stroke="#ff00ff" stroke-width="2.5"/>
<rect x="906.3" y="580.8" width="20.4" height="20.4" fill="#fff" stroke="#ff00ff" stroke-width="2.5"/>
<rect x="972.6" y="706.6" width="20.4" height="20.4" fill="#fff" stroke="#ff00ff" stroke-width="2.5"/>
<rect x="1038.9" y="617.1" width="20.4" height="20.4" fill="#fff" stroke="#ff00ff" stroke-width="2.5"/>
<rect x="1105.2" y="696" width="20.4" height="20.4" fill="#fff" stroke="#ff00ff" stroke-width="2.5"/>
<rect x="1171.5" y="713" width="20.4" height="20.4" fill="#fff" stroke="#ff00ff" stroke-width="2.5"/>
<rect x="1237.7" y="786.4" width="20.4" height="20.4" fill="#fff" stroke="#ff00ff" stroke-width="2.5"/>
<rect x="1304" y="740.1" width="20.4" height="20.4" fill="#fff" stroke="#ff00ff" stroke-width="2.5"/>
<rect x="1370.3" y="697.5" width="20.4" height="20.4" fill="#fff" stroke="#ff00ff" stroke-width="2.5"/>
<rect x="1436.6" y="754" width="20.4" height="20.4" fill="#fff" stroke="#ff00ff" stroke-width="2.5"/>
<rect x="1502.9" y="758.4" width="20.4" height="20.4" fill="#fff" stroke="#ff00ff" stroke-width="2.5"/>
<rect x="1569.2" y="715.6" width="20.4" height="20.4" fill="#fff" stroke="#ff00ff" stroke-width="2.5"/>
<rect x="1635.5" y="623.5" width="20.4" height="20.4" fill="#fff" stroke="#ff00ff" stroke-width="2.5"/>
<rect x="1701.8" y="581.9" width="20.4" height="20.4" fill="#fff" stroke="#ff00ff" stroke-width="2.5"/>
<rect x="1768.1" y="606.4" width="20.4" height="20.4" fill="#fff" stroke="#ff00ff" stroke-width="2.5"/>
<rect x="1834.4" y="612" width="20.4" height="20.4" fill="#fff" stroke="#ff00ff" stroke-width="2.5"/>
<rect x="1900.6" y="591.5" width="20.4" height="20.4" fill="#fff" stroke="#ff00ff" stroke-width="2.5"/>
<rect x="1966.9" y="646.9" width="20.4" height="20.4" fill="#fff" stroke="#ff00ff" stroke-width="2.5"/>
<rect x="2033.2" y="608.6" width="20.4" height="20.4" fill="#fff" stroke="#ff00ff" stroke-width="2.5"/>
<rect x="2099.5" y="648" width="20.4" height="20.4" fill="#fff" stroke="#ff00ff" stroke-width="2.5"/></g>
<g clip-path="url(#c2)"><polyline points="187.3,1812.6 253.6,1814.2 319.9,1805.1 386.2,1803.6 452.5,1812.6 518.8,1813.6 585,1824.2 651.3,1821.1 717.6,1824.2 783.9,1818.1 850.2,1806.9 916.5,1814.2 982.8,1812.6 1049.1,1812 1115.4,1812.6 1181.7,1817.2 1247.9,1817.2 1314.2,1815.1 1380.5,1808.1 1446.8,1806.6 1513.1,1815.1 1579.4,1809.6 1645.7,1808.1 1712,1812.4 1778.3,1814.1 1844.6,1807 1910.8,1807 1977.1,1807 2043.4,1798 2109.7,1799.2" fill="none" stroke="#ff0000" stroke-width="3.5" stroke-linejoin="round"/>
<circle cx="187.3" cy="1812.6" r="13.5" fill="#ff0000"/>
<circle cx="253.6" cy="1814.2" r="13.5" fill="#ff0000"/>
<circle cx="319.9" cy="1805.1" r="13.5" fill="#ff0000"/>
<circle cx="386.2" cy="1803.6" r="13.5" fill="#ff0000"/>
<circle cx="452.5" cy="1812.6" r="13.5" fill="#ff0000"/>
<circle cx="518.8" cy="1813.6" r="13.5" fill="#ff0000"/>
<circle cx="585" cy="1824.2" r="13.5" fill="#ff0000"/>
<circle cx="651.3" cy="1821.1" r="13.5" fill="#ff0000"/>
<circle cx="717.6" cy="1824.2" r="13.5" fill="#ff0000"/>
<circle cx="783.9" cy="1818.1" r="13.5" fill="#ff0000"/>
<circle cx="850.2" cy="1806.9" r="13.5" fill="#ff0000"/>
<circle cx="916.5" cy="1814.2" r="13.5" fill="#ff0000"/>
<circle cx="982.8" cy="1812.6" r="13.5" fill="#ff0000"/>
<circle cx="1049.1" cy="1812" r="13.5" fill="#ff0000"/>
<circle cx="1115.4" cy="1812.6" r="13.5" fill="#ff0000"/>
<circle cx="1181.7" cy="1817.2" r="13.5" fill="#ff0000"/>
<circle cx="1247.9" cy="1817.2" r="13.5" fill="#ff0000"/>
<circle cx="1314.2" cy="1815.1" r="13.5" fill="#ff0000"/>
<circle cx="1380.5" cy="1808.1" r="13.5" fill="#ff0000"/>
<circle cx="1446.8" cy="1806.6" r="13.5" fill="#ff0000"/>
<circle cx="1513.1" cy="1815.1" r="13.5" fill="#ff0000"/>
<circle cx="1579.4" cy="1809.6" r="13.5" fill="#ff0000"/>
<circle cx="1645.7" cy="1808.1" r="13.5" fill="#ff0000"/>
<circle cx="1712" cy="1812.4" r="13.5" fill="#ff0000"/>
<circle cx="1778.3" cy="1814.1" r="13.5" fill="#ff0000"/>
<circle cx="1844.6" cy="1807" r="13.5" fill="#ff0000"/>
<circle cx="1910.8" cy="1807" r="13.5" fill="#ff0000"/>
<circle cx="1977.1" cy="1807" r="13.5" fill="#ff0000"/>
<circle cx="2043.4" cy="1798" r="13.5" fill="#ff0000"/>
<circle cx="2109.7" cy="1799.2" r="13.5" fill="#ff0000"/>
<polyline points="187.3,1696.4 253.6,1671.9 319.9,1649.5 386.2,1638.4 452.5,1655.9 518.8,1629.4 585,1630.8 651.3,1590.8 717.6,1577.2 783.9,1624.1 850.2,1580.8 916.5,1566 982.8,1535.7 1049.1,1628.7 1115.4,1652.7 1181.7,1665.7 1247.9,1639.6 1314.2,1637.8 1380.5,1649.1 1446.8,1629 1513.1,1650.9 1579.4,1631.4 1645.7,1623.7 1712,1594.6 1778.3,1676 1844.6,1660.6 1910.8,1678.7 1977.1,1685.1 2043.4,1632.7 2109.7,1646.1" fill="none" stroke="#ff0000" stroke-width="3.5" stroke-linejoin="round"/>
<circle cx="187.3" cy="1696.4" r="11.5" fill="#fff" stroke="#ff0000" stroke-width="2.5"/>
<circle cx="253.6" cy="1671.9" r="11.5" fill="#fff" stroke="#ff0000" stroke-width="2.5"/>
<circle cx="319.9" cy="1649.5" r="11.5" fill="#fff" stroke="#ff0000" stroke-width="2.5"/>
<circle cx="386.2" cy="1638.4" r="11.5" fill="#fff" stroke="#ff0000" stroke-width="2.5"/>
<circle cx="452.5" cy="1655.9" r="11.5" fill="#fff" stroke="#ff0000" stroke-width="2.5"/>
<circle cx="518.8" cy="1629.4" r="11.5" fill="#fff" stroke="#ff0000" stroke-width="2.5"/>
<circle cx="585" cy="1630.8" r="11.5" fill="#fff" stroke="#ff0000" stroke-width="2.5"/>
<circle cx="651.3" cy="1590.8" r="11.5" fill="#fff" stroke="#ff0000" stroke-width="2.5"/>
<circle cx="717.6" cy="1577.2" r="11.5" fill="#fff" stroke="#ff0000" stroke-width="2.5"/>
<circle cx="783.9" cy="1624.1" r="11.5" fill="#fff" stroke="#ff0000" stroke-width="2.5"/>
<circle cx="850.2" cy="1580.8" r="11.5" fill="#fff" stroke="#ff0000" stroke-width="2.5"/>
<circle cx="916.5" cy="1566" r="11.5" fill="#fff" stroke="#ff0000" stroke-width="2.5"/>
<circle cx="982.8" cy="1535.7" r="11.5" fill="#fff" stroke="#ff0000" stroke-width="2.5"/>
<circle cx="1049.1" cy="1628.7" r="11.5" fill="#fff" stroke="#ff0000" stroke-width="2.5"/>
<circle cx="1115.4" cy="1652.7" r="11.5" fill="#fff" stroke="#ff0000" stroke-width="2.5"/>
<circle cx="1181.7" cy="1665.7" r="11.5" fill="#fff" stroke="#ff0000" stroke-width="2.5"/>
<circle cx="1247.9" cy="1639.6" r="11.5" fill="#fff" stroke="#ff0000" stroke-width="2.5"/>
<circle cx="1314.2" cy="1637.8" r="11.5" fill="#fff" stroke="#ff0000" stroke-width="2.5"/>
<circle cx="1380.5" cy="1649.1" r="11.5" fill="#fff" stroke="#ff0000" stroke-width="2.5"/>
<circle cx="1446.8" cy="1629" r="11.5" fill="#fff" stroke="#ff0000" stroke-width="2.5"/>
<circle cx="1513.1" cy="1650.9" r="11.5" fill="#fff" stroke="#ff0000" stroke-width="2.5"/>
<circle cx="1579.4" cy="1631.4" r="11.5" fill="#fff" stroke="#ff0000" stroke-width="2.5"/>
<circle cx="1645.7" cy="1623.7" r="11.5" fill="#fff" stroke="#ff0000" stroke-width="2.5"/>
<circle cx="1712" cy="1594.6" r="11.5" fill="#fff" stroke="#ff0000" stroke-width="2.5"/>
<circle cx="1778.3" cy="1676" r="11.5" fill="#fff" stroke="#ff0000" stroke-width="2.5"/>
<circle cx="1844.6" cy="1660.6" r="11.5" fill="#fff" stroke="#ff0000" stroke-width="2.5"/>
<circle cx="1910.8" cy="1678.7" r="11.5" fill="#fff" stroke="#ff0000" stroke-width="2.5"/>
<circle cx="1977.1" cy="1685.1" r="11.5" fill="#fff" stroke="#ff0000" stroke-width="2.5"/>
<circle cx="2043.4" cy="1632.7" r="11.5" fill="#fff" stroke="#ff0000" stroke-width="2.5"/>
<circle cx="2109.7" cy="1646.1" r="11.5" fill="#fff" stroke="#ff0000" stroke-width="2.5"/>
<polyline points="187.3,1775 253.6,1769.1 319.9,1767.5 386.2,1771.8 452.5,1781.7 518.8,1785.6 585,1794.5 651.3,1789.3 717.6,1778.4 783.9,1781.4 850.2,1778.4 916.5,1780.8 982.8,1771.8 1049.1,1780.8 1115.4,1778.4 1181.7,1778.4 1247.9,1778.4 1314.2,1780.8 1380.5,1772.4 1446.8,1772.4 1513.1,1776.3 1579.4,1767.2 1645.7,1776.3 1712,1783.5 1778.3,1778.7 1844.6,1778.9 1910.8,1770.2 1977.1,1786 2043.4,1769.5 2109.7,1764.7" fill="none" stroke="#00ff00" stroke-width="3.5" stroke-linejoin="round"/>
<polygon points="187.3,1757.7 202.3,1783.7 172.3,1783.7" fill="#00ff00"/>
<polygon points="253.6,1751.8 268.6,1777.8 238.6,1777.8" fill="#00ff00"/>
<polygon points="319.9,1750.2 334.9,1776.2 304.9,1776.2" fill="#00ff00"/>
<polygon points="386.2,1754.5 401.2,1780.5 371.2,1780.5" fill="#00ff00"/>
<polygon points="452.5,1764.4 467.5,1790.4 437.5,1790.4" fill="#00ff00"/>
<polygon points="518.8,1768.3 533.8,1794.3 503.8,1794.3" fill="#00ff00"/>
<polygon points="585,1777.2 600,1803.2 570,1803.2" fill="#00ff00"/>
<polygon points="651.3,1772 666.3,1798 636.3,1798" fill="#00ff00"/>
<polygon points="717.6,1761.1 732.6,1787.1 702.6,1787.1" fill="#00ff00"/>
<polygon points="783.9,1764.1 798.9,1790.1 768.9,1790.1" fill="#00ff00"/>
<polygon points="850.2,1761.1 865.2,1787.1 835.2,1787.1" fill="#00ff00"/>
<polygon points="916.5,1763.5 931.5,1789.5 901.5,1789.5" fill="#00ff00"/>
<polygon points="982.8,1754.5 997.8,1780.5 967.8,1780.5" fill="#00ff00"/>
<polygon points="1049.1,1763.5 1064.1,1789.5 1034.1,1789.5" fill="#00ff00"/>
<polygon points="1115.4,1761.1 1130.4,1787.1 1100.4,1787.1" fill="#00ff00"/>
<polygon points="1181.7,1761.1 1196.7,1787.1 1166.7,1787.1" fill="#00ff00"/>
<polygon points="1247.9,1761.1 1262.9,1787.1 1232.9,1787.1" fill="#00ff00"/>
<polygon points="1314.2,1763.5 1329.2,1789.5 1299.2,1789.5" fill="#00ff00"/>
<polygon points="1380.5,1755.1 1395.5,1781.1 1365.5,1781.1" fill="#00ff00"/>
<polygon points="1446.8,1755.1 1461.8,1781.1 1431.8,1781.1" fill="#00ff00"/>
<polygon points="1513.1,1759 1528.1,1785 1498.1,1785" fill="#00ff00"/>
<polygon points="1579.4,1749.9 1594.4,1775.9 1564.4,1775.9" fill="#00ff00"/>
<polygon points="1645.7,1759 1660.7,1785 1630.7,1785" fill="#00ff00"/>
<polygon points="1712,1766.2 1727,1792.2 1697,1792.2" fill="#00ff00"/>
<polygon points="1778.3,1761.4 1793.3,1787.4 1763.3,1787.4" fill="#00ff00"/>
<polygon points="1844.6,1761.6 1859.6,1787.6 1829.6,1787.6" fill="#00ff00"/>
<polygon points="1910.8,1752.9 1925.8,1778.9 1895.8,1778.9" fill="#00ff00"/>
<polygon points="1977.1,1768.7 1992.1,1794.7 1962.1,1794.7" fill="#00ff00"/>
<polygon points="2043.4,1752.2 2058.4,1778.2 2028.4,1778.2" fill="#00ff00"/>
<polygon points="2109.7,1747.4 2124.7,1773.4 2094.7,1773.4" fill="#00ff00"/>
<polyline points="187.3,1436.3 253.6,1418 319.9,1413.1 386.2,1367.3 452.5,1371.6 518.8,1369.4 585,1334.9 651.3,1214.4 717.6,1179 783.9,1239.8 850.2,1156.8 916.5,1131.7 982.8,1144.5 1049.1,1154.1 1115.4,1110.4 1181.7,1156.8 1247.9,1115.7 1314.2,1167.9 1380.5,1216.5 1446.8,1225.5 1513.1,1365.2 1579.4,1405.7 1645.7,1351.3 1712,1282 1778.3,1343.8 1844.6,1368.4 1910.8,1394.4 1977.1,1388 2043.4,1333.6 2109.7,1327.8" fill="none" stroke="#00ff00" stroke-width="3.5" stroke-linejoin="round"/>
<polygon points="187.3,1421.3 200.3,1443.8 174.3,1443.8" fill="#fff" stroke="#00ff00" stroke-width="2.5" stroke-linejoin="miter"/>
<polygon points="253.6,1403 266.6,1425.5 240.6,1425.5" fill="#fff" stroke="#00ff00" stroke-width="2.5" stroke-linejoin="miter"/>
<polygon points="319.9,1398.1 332.9,1420.6 306.9,1420.6" fill="#fff" stroke="#00ff00" stroke-width="2.5" stroke-linejoin="miter"/>
<polygon points="386.2,1352.3 399.2,1374.8 373.2,1374.8" fill="#fff" stroke="#00ff00" stroke-width="2.5" stroke-linejoin="miter"/>
<polygon points="452.5,1356.6 465.5,1379.1 439.5,1379.1" fill="#fff" stroke="#00ff00" stroke-width="2.5" stroke-linejoin="miter"/>
<polygon points="518.8,1354.4 531.8,1376.9 505.8,1376.9" fill="#fff" stroke="#00ff00" stroke-width="2.5" stroke-linejoin="miter"/>
<polygon points="585,1319.9 598,1342.4 572,1342.4" fill="#fff" stroke="#00ff00" stroke-width="2.5" stroke-linejoin="miter"/>
<polygon points="651.3,1199.4 664.3,1221.9 638.3,1221.9" fill="#fff" stroke="#00ff00" stroke-width="2.5" stroke-linejoin="miter"/>
<polygon points="717.6,1164 730.6,1186.5 704.6,1186.5" fill="#fff" stroke="#00ff00" stroke-width="2.5" stroke-linejoin="miter"/>
<polygon points="783.9,1224.8 796.9,1247.3 770.9,1247.3" fill="#fff" stroke="#00ff00" stroke-width="2.5" stroke-linejoin="miter"/>
<polygon points="850.2,1141.8 863.2,1164.3 837.2,1164.3" fill="#fff" stroke="#00ff00" stroke-width="2.5" stroke-linejoin="miter"/>
<polygon points="916.5,1116.7 929.5,1139.2 903.5,1139.2" fill="#fff" stroke="#00ff00" stroke-width="2.5" stroke-linejoin="miter"/>
<polygon points="982.8,1129.5 995.8,1152 969.8,1152" fill="#fff" stroke="#00ff00" stroke-width="2.5" stroke-linejoin="miter"/>
<polygon points="1049.1,1139.1 1062.1,1161.6 1036.1,1161.6" fill="#fff" stroke="#00ff00" stroke-width="2.5" stroke-linejoin="miter"/>
<polygon points="1115.4,1095.4 1128.4,1117.9 1102.4,1117.9" fill="#fff" stroke="#00ff00" stroke-width="2.5" stroke-linejoin="miter"/>
<polygon points="1181.7,1141.8 1194.7,1164.3 1168.7,1164.3" fill="#fff" stroke="#00ff00" stroke-width="2.5" stroke-linejoin="miter"/>
<polygon points="1247.9,1100.7 1260.9,1123.2 1234.9,1123.2" fill="#fff" stroke="#00ff00" stroke-width="2.5" stroke-linejoin="miter"/>
<polygon points="1314.2,1152.9 1327.2,1175.4 1301.2,1175.4" fill="#fff" stroke="#00ff00" stroke-width="2.5" stroke-linejoin="miter"/>
<polygon points="1380.5,1201.5 1393.5,1224 1367.5,1224" fill="#fff" stroke="#00ff00" stroke-width="2.5" stroke-linejoin="miter"/>
<polygon points="1446.8,1210.5 1459.8,1233 1433.8,1233" fill="#fff" stroke="#00ff00" stroke-width="2.5" stroke-linejoin="miter"/>
<polygon points="1513.1,1350.2 1526.1,1372.7 1500.1,1372.7" fill="#fff" stroke="#00ff00" stroke-width="2.5" stroke-linejoin="miter"/>
<polygon points="1579.4,1390.7 1592.4,1413.2 1566.4,1413.2" fill="#fff" stroke="#00ff00" stroke-width="2.5" stroke-linejoin="miter"/>
<polygon points="1645.7,1336.3 1658.7,1358.8 1632.7,1358.8" fill="#fff" stroke="#00ff00" stroke-width="2.5" stroke-linejoin="miter"/>
<polygon points="1712,1267 1725,1289.5 1699,1289.5" fill="#fff" stroke="#00ff00" stroke-width="2.5" stroke-linejoin="miter"/>
<polygon points="1778.3,1328.8 1791.3,1351.3 1765.3,1351.3" fill="#fff" stroke="#00ff00" stroke-width="2.5" stroke-linejoin="miter"/>
<polygon points="1844.6,1353.4 1857.6,1375.9 1831.6,1375.9" fill="#fff" stroke="#00ff00" stroke-width="2.5" stroke-linejoin="miter"/>
<polygon points="1910.8,1379.4 1923.8,1401.9 1897.8,1401.9" fill="#fff" stroke="#00ff00" stroke-width="2.5" stroke-linejoin="miter"/>
<polygon points="1977.1,1373 1990.1,1395.5 1964.1,1395.5" fill="#fff" stroke="#00ff00" stroke-width="2.5" stroke-linejoin="miter"/>
<polygon points="2043.4,1318.6 2056.4,1341.1 2030.4,1341.1" fill="#fff" stroke="#00ff00" stroke-width="2.5" stroke-linejoin="miter"/>
<polygon points="2109.7,1312.8 2122.7,1335.3 2096.7,1335.3" fill="#fff" stroke="#00ff00" stroke-width="2.5" stroke-linejoin="miter"/>
<polyline points="187.3,1736.7 253.6,1724.3 319.9,1714.5 386.2,1721.2 452.5,1736.7 518.8,1750.5 585,1745.1 651.3,1736 717.6,1731.2 783.9,1735.1" fill="none" stroke="#0000ff" stroke-width="3.5" stroke-linejoin="round"/>
<polyline points="916.5,1732.4 982.8,1730.6 1049.1,1734.2 1115.4,1724.5 1181.7,1739 1247.9,1747.2 1314.2,1734.2 1380.5,1725.1 1446.8,1728.1 1513.1,1733 1579.4,1712.4 1645.7,1715.1 1712,1739.8 1778.3,1728.2 1844.6,1730.5 1910.8,1723.6 1977.1,1723.6 2043.4,1699.3 2109.7,1718.7" fill="none" stroke="#0000ff" stroke-width="3.5" stroke-linejoin="round"/>
<polygon points="187.3,1721.2 202.8,1736.7 187.3,1752.2 171.8,1736.7" fill="#0000ff"/>
<polygon points="253.6,1708.8 269.1,1724.3 253.6,1739.8 238.1,1724.3" fill="#0000ff"/>
<polygon points="319.9,1699 335.4,1714.5 319.9,1730 304.4,1714.5" fill="#0000ff"/>
<polygon points="386.2,1705.7 401.7,1721.2 386.2,1736.7 370.7,1721.2" fill="#0000ff"/>
<polygon points="452.5,1721.2 468,1736.7 452.5,1752.2 437,1736.7" fill="#0000ff"/>
<polygon points="518.8,1735 534.2,1750.5 518.8,1766 503.2,1750.5" fill="#0000ff"/>
<polygon points="585,1729.6 600.5,1745.1 585,1760.6 569.5,1745.1" fill="#0000ff"/>
<polygon points="651.3,1720.5 666.8,1736 651.3,1751.5 635.8,1736" fill="#0000ff"/>
<polygon points="717.6,1715.7 733.1,1731.2 717.6,1746.7 702.1,1731.2" fill="#0000ff"/>
<polygon points="783.9,1719.6 799.4,1735.1 783.9,1750.6 768.4,1735.1" fill="#0000ff"/>
<polygon points="916.5,1716.9 932,1732.4 916.5,1747.9 901,1732.4" fill="#0000ff"/>
<polygon points="982.8,1715.1 998.3,1730.6 982.8,1746.1 967.3,1730.6" fill="#0000ff"/>
<polygon points="1049.1,1718.7 1064.6,1734.2 1049.1,1749.7 1033.6,1734.2" fill="#0000ff"/>
<polygon points="1115.4,1709 1130.9,1724.5 1115.4,1740 1099.9,1724.5" fill="#0000ff"/>
<polygon points="1181.7,1723.5 1197.2,1739 1181.7,1754.5 1166.2,1739" fill="#0000ff"/>
<polygon points="1247.9,1731.7 1263.4,1747.2 1247.9,1762.7 1232.4,1747.2" fill="#0000ff"/>
<polygon points="1314.2,1718.7 1329.7,1734.2 1314.2,1749.7 1298.7,1734.2" fill="#0000ff"/>
<polygon points="1380.5,1709.6 1396,1725.1 1380.5,1740.6 1365,1725.1" fill="#0000ff"/>
<polygon points="1446.8,1712.6 1462.3,1728.1 1446.8,1743.6 1431.3,1728.1" fill="#0000ff"/>
<polygon points="1513.1,1717.5 1528.6,1733 1513.1,1748.5 1497.6,1733" fill="#0000ff"/>
<polygon points="1579.4,1696.9 1594.9,1712.4 1579.4,1727.9 1563.9,1712.4" fill="#0000ff"/>
<polygon points="1645.7,1699.6 1661.2,1715.1 1645.7,1730.6 1630.2,1715.1" fill="#0000ff"/>
<polygon points="1712,1724.3 1727.5,1739.8 1712,1755.3 1696.5,1739.8" fill="#0000ff"/>
<polygon points="1778.3,1712.7 1793.8,1728.2 1778.3,1743.7 1762.8,1728.2" fill="#0000ff"/>
<polygon points="1844.6,1715 1860.1,1730.5 1844.6,1746 1829.1,1730.5" fill="#0000ff"/>
<polygon points="1910.8,1708.1 1926.3,1723.6 1910.8,1739.1 1895.3,1723.6" fill="#0000ff"/>
<polygon points="1977.1,1708.1 1992.6,1723.6 1977.1,1739.1 1961.6,1723.6" fill="#0000ff"/>
<polygon points="2043.4,1683.8 2058.9,1699.3 2043.4,1714.8 2027.9,1699.3" fill="#0000ff"/>
<polygon points="2109.7,1703.2 2125.2,1718.7 2109.7,1734.2 2094.2,1718.7" fill="#0000ff"/>
<polyline points="187.3,1258.1 253.6,1258.1 319.9,1301.8 386.2,1247.9 452.5,1265.6 518.8,1227.6 585,1211.6 651.3,1191.8 717.6,1073 783.9,1194.6 850.2,1097.1 916.5,1081.6 982.8,1140.6 1049.1,1127.4 1115.4,1189.3 1181.7,1180.3 1247.9,1214.8 1314.2,1221.7 1380.5,1203.1 1446.8,1181.8 1513.1,1217.7 1579.4,1245.8 1645.7,1110.4 1712,1181.8 1778.3,1182.4 1844.6,1219.1 1910.8,1277.1 1977.1,1247.9 2043.4,1210.6 2109.7,1134.9" fill="none" stroke="#0000ff" stroke-width="3.5" stroke-linejoin="round"/>
<polygon points="187.3,1244.3 200.5,1258.1 187.3,1271.9 174.1,1258.1" fill="#fff" stroke="#0000ff" stroke-width="2.5"/>
<polygon points="253.6,1244.3 266.8,1258.1 253.6,1271.9 240.4,1258.1" fill="#fff" stroke="#0000ff" stroke-width="2.5"/>
<polygon points="319.9,1288 333.1,1301.8 319.9,1315.6 306.7,1301.8" fill="#fff" stroke="#0000ff" stroke-width="2.5"/>
<polygon points="386.2,1234.1 399.4,1247.9 386.2,1261.7 373,1247.9" fill="#fff" stroke="#0000ff" stroke-width="2.5"/>
<polygon points="452.5,1251.8 465.7,1265.6 452.5,1279.4 439.3,1265.6" fill="#fff" stroke="#0000ff" stroke-width="2.5"/>
<polygon points="518.8,1213.8 532,1227.6 518.8,1241.4 505.6,1227.6" fill="#fff" stroke="#0000ff" stroke-width="2.5"/>
<polygon points="585,1197.8 598.2,1211.6 585,1225.4 571.8,1211.6" fill="#fff" stroke="#0000ff" stroke-width="2.5"/>
<polygon points="651.3,1178 664.5,1191.8 651.3,1205.6 638.1,1191.8" fill="#fff" stroke="#0000ff" stroke-width="2.5"/>
<polygon points="717.6,1059.2 730.8,1073 717.6,1086.8 704.4,1073" fill="#fff" stroke="#0000ff" stroke-width="2.5"/>
<polygon points="783.9,1180.8 797.1,1194.6 783.9,1208.4 770.7,1194.6" fill="#fff" stroke="#0000ff" stroke-width="2.5"/>
<polygon points="850.2,1083.3 863.4,1097.1 850.2,1110.9 837,1097.1" fill="#fff" stroke="#0000ff" stroke-width="2.5"/>
<polygon points="916.5,1067.8 929.7,1081.6 916.5,1095.4 903.3,1081.6" fill="#fff" stroke="#0000ff" stroke-width="2.5"/>
<polygon points="982.8,1126.8 996,1140.6 982.8,1154.4 969.6,1140.6" fill="#fff" stroke="#0000ff" stroke-width="2.5"/>
<polygon points="1049.1,1113.6 1062.3,1127.4 1049.1,1141.2 1035.9,1127.4" fill="#fff" stroke="#0000ff" stroke-width="2.5"/>
<polygon points="1115.4,1175.5 1128.6,1189.3 1115.4,1203.1 1102.2,1189.3" fill="#fff" stroke="#0000ff" stroke-width="2.5"/>
<polygon points="1181.7,1166.5 1194.9,1180.3 1181.7,1194.1 1168.5,1180.3" fill="#fff" stroke="#0000ff" stroke-width="2.5"/>
<polygon points="1247.9,1201 1261.1,1214.8 1247.9,1228.6 1234.7,1214.8" fill="#fff" stroke="#0000ff" stroke-width="2.5"/>
<polygon points="1314.2,1207.9 1327.4,1221.7 1314.2,1235.5 1301,1221.7" fill="#fff" stroke="#0000ff" stroke-width="2.5"/>
<polygon points="1380.5,1189.3 1393.7,1203.1 1380.5,1216.9 1367.3,1203.1" fill="#fff" stroke="#0000ff" stroke-width="2.5"/>
<polygon points="1446.8,1168 1460,1181.8 1446.8,1195.6 1433.6,1181.8" fill="#fff" stroke="#0000ff" stroke-width="2.5"/>
<polygon points="1513.1,1203.9 1526.3,1217.7 1513.1,1231.5 1499.9,1217.7" fill="#fff" stroke="#0000ff" stroke-width="2.5"/>
<polygon points="1579.4,1232 1592.6,1245.8 1579.4,1259.6 1566.2,1245.8" fill="#fff" stroke="#0000ff" stroke-width="2.5"/>
<polygon points="1645.7,1096.6 1658.9,1110.4 1645.7,1124.2 1632.5,1110.4" fill="#fff" stroke="#0000ff" stroke-width="2.5"/>
<polygon points="1712,1168 1725.2,1181.8 1712,1195.6 1698.8,1181.8" fill="#fff" stroke="#0000ff" stroke-width="2.5"/>
<polygon points="1778.3,1168.6 1791.5,1182.4 1778.3,1196.2 1765.1,1182.4" fill="#fff" stroke="#0000ff" stroke-width="2.5"/>
<polygon points="1844.6,1205.3 1857.8,1219.1 1844.6,1232.9 1831.4,1219.1" fill="#fff" stroke="#0000ff" stroke-width="2.5"/>
<polygon points="1910.8,1263.3 1924,1277.1 1910.8,1290.9 1897.6,1277.1" fill="#fff" stroke="#0000ff" stroke-width="2.5"/>
<polygon points="1977.1,1234.1 1990.3,1247.9 1977.1,1261.7 1963.9,1247.9" fill="#fff" stroke="#0000ff" stroke-width="2.5"/>
<polygon points="2043.4,1196.8 2056.6,1210.6 2043.4,1224.4 2030.2,1210.6" fill="#fff" stroke="#0000ff" stroke-width="2.5"/>
<polygon points="2109.7,1121.1 2122.9,1134.9 2109.7,1148.7 2096.5,1134.9" fill="#fff" stroke="#0000ff" stroke-width="2.5"/>
<polyline points="187.3,1759.1 253.6,1749.8 319.9,1743.6 386.2,1736.9 452.5,1753 518.8,1764 585,1766.6 651.3,1759 717.6,1746.3 783.9,1761.5 850.2,1749.3 916.5,1762.1 982.8,1753 1049.1,1761.5 1115.4,1746.9 1181.7,1759 1247.9,1761.5 1314.2,1752.4 1380.5,1747.5 1446.8,1753.6 1513.1,1746.9 1579.4,1736.9 1645.7,1743.9 1712,1758.7 1778.3,1742.5 1844.6,1744.9 1910.8,1753.6 1977.1,1759.1 2043.4,1727.7 2109.7,1727.7" fill="none" stroke="#ff00ff" stroke-width="3.5" stroke-linejoin="round"/>
<rect x="175.3" y="1747.1" width="24" height="24" fill="#ff00ff"/>
<rect x="241.6" y="1737.8" width="24" height="24" fill="#ff00ff"/>
<rect x="307.9" y="1731.6" width="24" height="24" fill="#ff00ff"/>
<rect x="374.2" y="1724.9" width="24" height="24" fill="#ff00ff"/>
<rect x="440.5" y="1741" width="24" height="24" fill="#ff00ff"/>
<rect x="506.8" y="1752" width="24" height="24" fill="#ff00ff"/>
<rect x="573" y="1754.6" width="24" height="24" fill="#ff00ff"/>
<rect x="639.3" y="1747" width="24" height="24" fill="#ff00ff"/>
<rect x="705.6" y="1734.3" width="24" height="24" fill="#ff00ff"/>
<rect x="771.9" y="1749.5" width="24" height="24" fill="#ff00ff"/>
<rect x="838.2" y="1737.3" width="24" height="24" fill="#ff00ff"/>
<rect x="904.5" y="1750.1" width="24" height="24" fill="#ff00ff"/>
<rect x="970.8" y="1741" width="24" height="24" fill="#ff00ff"/>
<rect x="1037.1" y="1749.5" width="24" height="24" fill="#ff00ff"/>
<rect x="1103.4" y="1734.9" width="24" height="24" fill="#ff00ff"/>
<rect x="1169.7" y="1747" width="24" height="24" fill="#ff00ff"/>
<rect x="1235.9" y="1749.5" width="24" height="24" fill="#ff00ff"/>
<rect x="1302.2" y="1740.4" width="24" height="24" fill="#ff00ff"/>
<rect x="1368.5" y="1735.5" width="24" height="24" fill="#ff00ff"/>
<rect x="1434.8" y="1741.6" width="24" height="24" fill="#ff00ff"/>
<rect x="1501.1" y="1734.9" width="24" height="24" fill="#ff00ff"/>
<rect x="1567.4" y="1724.9" width="24" height="24" fill="#ff00ff"/>
<rect x="1633.7" y="1731.9" width="24" height="24" fill="#ff00ff"/>
<rect x="1700" y="1746.7" width="24" height="24" fill="#ff00ff"/>
<rect x="1766.3" y="1730.5" width="24" height="24" fill="#ff00ff"/>
<rect x="1832.6" y="1732.9" width="24" height="24" fill="#ff00ff"/>
<rect x="1898.8" y="1741.6" width="24" height="24" fill="#ff00ff"/>
<rect x="1965.1" y="1747.1" width="24" height="24" fill="#ff00ff"/>
<rect x="2031.4" y="1715.7" width="24" height="24" fill="#ff00ff"/>
<rect x="2097.7" y="1715.7" width="24" height="24" fill="#ff00ff"/>
<polyline points="187.3,1424.9 253.6,1389.7 319.9,1442.6 386.2,1394 452.5,1417.4 518.8,1421.6 585,1387.1 651.3,1382.2 717.6,1345.5 783.9,1363.7 850.2,1312.9 916.5,1285.6 982.8,1294.2 1049.1,1311.9 1115.4,1340.6 1181.7,1353.4 1247.9,1369.4 1314.2,1321.9 1380.5,1355.1 1446.8,1351.3 1513.1,1390 1579.4,1445.9 1645.7,1363.7 1712,1341.7 1778.3,1363 1844.6,1388.6 1910.8,1428 1977.1,1451 2043.4,1378 2109.7,1316.1" fill="none" stroke="#ff00ff" stroke-width="3.5" stroke-linejoin="round"/>
<rect x="177.1" y="1414.7" width="20.4" height="20.4" fill="#fff" stroke="#ff00ff" stroke-width="2.5"/>
<rect x="243.4" y="1379.5" width="20.4" height="20.4" fill="#fff" stroke="#ff00ff" stroke-width="2.5"/>
<rect x="309.7" y="1432.4" width="20.4" height="20.4" fill="#fff" stroke="#ff00ff" stroke-width="2.5"/>
<rect x="376" y="1383.8" width="20.4" height="20.4" fill="#fff" stroke="#ff00ff" stroke-width="2.5"/>
<rect x="442.3" y="1407.2" width="20.4" height="20.4" fill="#fff" stroke="#ff00ff" stroke-width="2.5"/>
<rect x="508.6" y="1411.4" width="20.4" height="20.4" fill="#fff" stroke="#ff00ff" stroke-width="2.5"/>
<rect x="574.8" y="1376.9" width="20.4" height="20.4" fill="#fff" stroke="#ff00ff" stroke-width="2.5"/>
<rect x="641.1" y="1372" width="20.4" height="20.4" fill="#fff" stroke="#ff00ff" stroke-width="2.5"/>
<rect x="707.4" y="1335.3" width="20.4" height="20.4" fill="#fff" stroke="#ff00ff" stroke-width="2.5"/>
<rect x="773.7" y="1353.5" width="20.4" height="20.4" fill="#fff" stroke="#ff00ff" stroke-width="2.5"/>
<rect x="840" y="1302.7" width="20.4" height="20.4" fill="#fff" stroke="#ff00ff" stroke-width="2.5"/>
<rect x="906.3" y="1275.4" width="20.4" height="20.4" fill="#fff" stroke="#ff00ff" stroke-width="2.5"/>
<rect x="972.6" y="1284" width="20.4" height="20.4" fill="#fff" stroke="#ff00ff" stroke-width="2.5"/>
<rect x="1038.9" y="1301.7" width="20.4" height="20.4" fill="#fff" stroke="#ff00ff" stroke-width="2.5"/>
<rect x="1105.2" y="1330.4" width="20.4" height="20.4" fill="#fff" stroke="#ff00ff" stroke-width="2.5"/>
<rect x="1171.5" y="1343.2" width="20.4" height="20.4" fill="#fff" stroke="#ff00ff" stroke-width="2.5"/>
<rect x="1237.7" y="1359.2" width="20.4" height="20.4" fill="#fff" stroke="#ff00ff" stroke-width="2.5"/>
<rect x="1304" y="1311.7" width="20.4" height="20.4" fill="#fff" stroke="#ff00ff" stroke-width="2.5"/>
<rect x="1370.3" y="1344.9" width="20.4" height="20.4" fill="#fff" stroke="#ff00ff" stroke-width="2.5"/>
<rect x="1436.6" y="1341.1" width="20.4" height="20.4" fill="#fff" stroke="#ff00ff" stroke-width="2.5"/>
<rect x="1502.9" y="1379.8" width="20.4" height="20.4" fill="#fff" stroke="#ff00ff" stroke-width="2.5"/>
<rect x="1569.2" y="1435.7" width="20.4" height="20.4" fill="#fff" stroke="#ff00ff" stroke-width="2.5"/>
<rect x="1635.5" y="1353.5" width="20.4" height="20.4" fill="#fff" stroke="#ff00ff" stroke-width="2.5"/>
<rect x="1701.8" y="1331.5" width="20.4" height="20.4" fill="#fff" stroke="#ff00ff" stroke-width="2.5"/>
<rect x="1768.1" y="1352.8" width="20.4" height="20.4" fill="#fff" stroke="#ff00ff" stroke-width="2.5"/>
<rect x="1834.4" y="1378.4" width="20.4" height="20.4" fill="#fff" stroke="#ff00ff" stroke-width="2.5"/>
<rect x="1900.6" y="1417.8" width="20.4" height="20.4" fill="#fff" stroke="#ff00ff" stroke-width="2.5"/>
<rect x="1966.9" y="1440.8" width="20.4" height="20.4" fill="#fff" stroke="#ff00ff" stroke-width="2.5"/>
<rect x="2033.2" y="1367.8" width="20.4" height="20.4" fill="#fff" stroke="#ff00ff" stroke-width="2.5"/>
<rect x="2099.5" y="1305.9" width="20.4" height="20.4" fill="#fff" stroke="#ff00ff" stroke-width="2.5"/></g>
<rect x="154.6" y="51.7" width="1988" height="914.6" fill="none" stroke="#000" stroke-width="4.3"/>
<rect x="154.6" y="981.8" width="1988" height="914.7" fill="none" stroke="#000" stroke-width="4.3"/>
<g font-family="Liberation Sans, Arial, sans-serif" font-size="58" fill="#000"><text transform="translate(139.5 72) scale(1 1.02)" text-anchor="end">4</text><text transform="translate(139.5 180.3) scale(1 1.02)" text-anchor="end">3</text><text transform="translate(139.5 291.4) scale(1 1.02)" text-anchor="end">2</text><text transform="translate(139.5 407.8) scale(1 1.02)" text-anchor="end">1</text><text transform="translate(139.5 524.3) scale(1 1.02)" text-anchor="end">0</text><text transform="translate(139.5 642.6) scale(1 1.02)" text-anchor="end">-1</text><text transform="translate(139.5 751.4) scale(1 1.02)" text-anchor="end">-2</text><text transform="translate(139.5 867.3) scale(1 1.02)" text-anchor="end">-3</text><text transform="translate(139.5 980.4) scale(1 1.02)" text-anchor="end">-4</text><text transform="translate(139.5 1102.3) scale(1 1.02)" text-anchor="end">8</text><text transform="translate(139.5 1199.3) scale(1 1.02)" text-anchor="end">7</text><text transform="translate(139.5 1299.8) scale(1 1.02)" text-anchor="end">6</text><text transform="translate(139.5 1403) scale(1 1.02)" text-anchor="end">5</text><text transform="translate(139.5 1506) scale(1 1.02)" text-anchor="end">4</text><text transform="translate(139.5 1609) scale(1 1.02)" text-anchor="end">3</text><text transform="translate(139.5 1708.5) scale(1 1.02)" text-anchor="end">2</text><text transform="translate(139.5 1812) scale(1 1.02)" text-anchor="end">1</text><text transform="translate(139.5 1912.3) scale(1 1.02)" text-anchor="end">0</text><text transform="translate(454 1954.2) scale(1 1.02)" text-anchor="middle">5</text><text transform="translate(782.4 1954.2) scale(1 1.02)" text-anchor="middle">10</text><text transform="translate(1113.9 1954.2) scale(1 1.02)" text-anchor="middle">15</text><text transform="translate(1445.3 1954.2) scale(1 1.02)" text-anchor="middle">20</text><text transform="translate(1776.8 1954.2) scale(1 1.02)" text-anchor="middle">25</text><text transform="translate(2108.2 1954.2) scale(1 1.02)" text-anchor="middle">30</text><text transform="translate(1126.8 2011.2) scale(1 1.02)" text-anchor="middle">Day</text><text transform="translate(67.6 504) rotate(-90) scale(1 1.02)" text-anchor="middle">Bias / TECU</text><text transform="translate(67.6 1428.5) rotate(-90) scale(1 1.02)" text-anchor="middle">STD / TECU</text></g>
<g font-family="Liberation Sans, Arial, sans-serif" font-size="58" fill="#000"><text transform="translate(272 146.4) scale(1 1.02)">2008</text><text transform="translate(272 211.9) scale(1 1.02)">2014</text><text transform="translate(521 185) scale(1 1.02)">GRC-CODE</text><text transform="translate(994.5 185) scale(1 1.02)">GRC-JPL</text><text transform="translate(1402.5 185) scale(1 1.02)">GRC-ESA</text><text transform="translate(1842.5 185) scale(1 1.02)">GRC-UPC</text></g>
<line x1="415.7" y1="130.9" x2="517.4" y2="130.9" stroke="#ff0000" stroke-width="4"/><circle cx="465.7" cy="130.9" r="10.8" fill="#ff0000"/><line x1="415.7" y1="193.2" x2="517.4" y2="193.2" stroke="#ff0000" stroke-width="4"/><circle cx="465.7" cy="193.2" r="9.2" fill="#fff" stroke="#ff0000" stroke-width="2.5"/><line x1="888.7" y1="130.9" x2="990.4" y2="130.9" stroke="#00ff00" stroke-width="4"/><polygon points="938.6,115.3 952.1,138.7 925.1,138.7" fill="#00ff00"/><line x1="888.7" y1="193.2" x2="990.4" y2="193.2" stroke="#00ff00" stroke-width="4"/><polygon points="938.6,179.7 950.3,199.9 926.9,199.9" fill="#fff" stroke="#00ff00" stroke-width="2.5" stroke-linejoin="miter"/><line x1="1298.8" y1="130.9" x2="1401.2" y2="130.9" stroke="#0000ff" stroke-width="4"/><polygon points="1349.7,117 1363.7,130.9 1349.7,144.8 1335.8,130.9" fill="#0000ff"/><line x1="1298.8" y1="193.2" x2="1401.2" y2="193.2" stroke="#0000ff" stroke-width="4"/><polygon points="1349.7,180.8 1361.6,193.2 1349.7,205.6 1337.8,193.2" fill="#fff" stroke="#0000ff" stroke-width="2.5"/><line x1="1738.5" y1="130.9" x2="1841.2" y2="130.9" stroke="#ff00ff" stroke-width="4"/><rect x="1778.9" y="120.1" width="21.6" height="21.6" fill="#ff00ff"/><line x1="1738.5" y1="193.2" x2="1841.2" y2="193.2" stroke="#ff00ff" stroke-width="4"/><rect x="1780.5" y="184" width="18.4" height="18.4" fill="#fff" stroke="#ff00ff" stroke-width="2.5"/>
</svg>
</body></html>
